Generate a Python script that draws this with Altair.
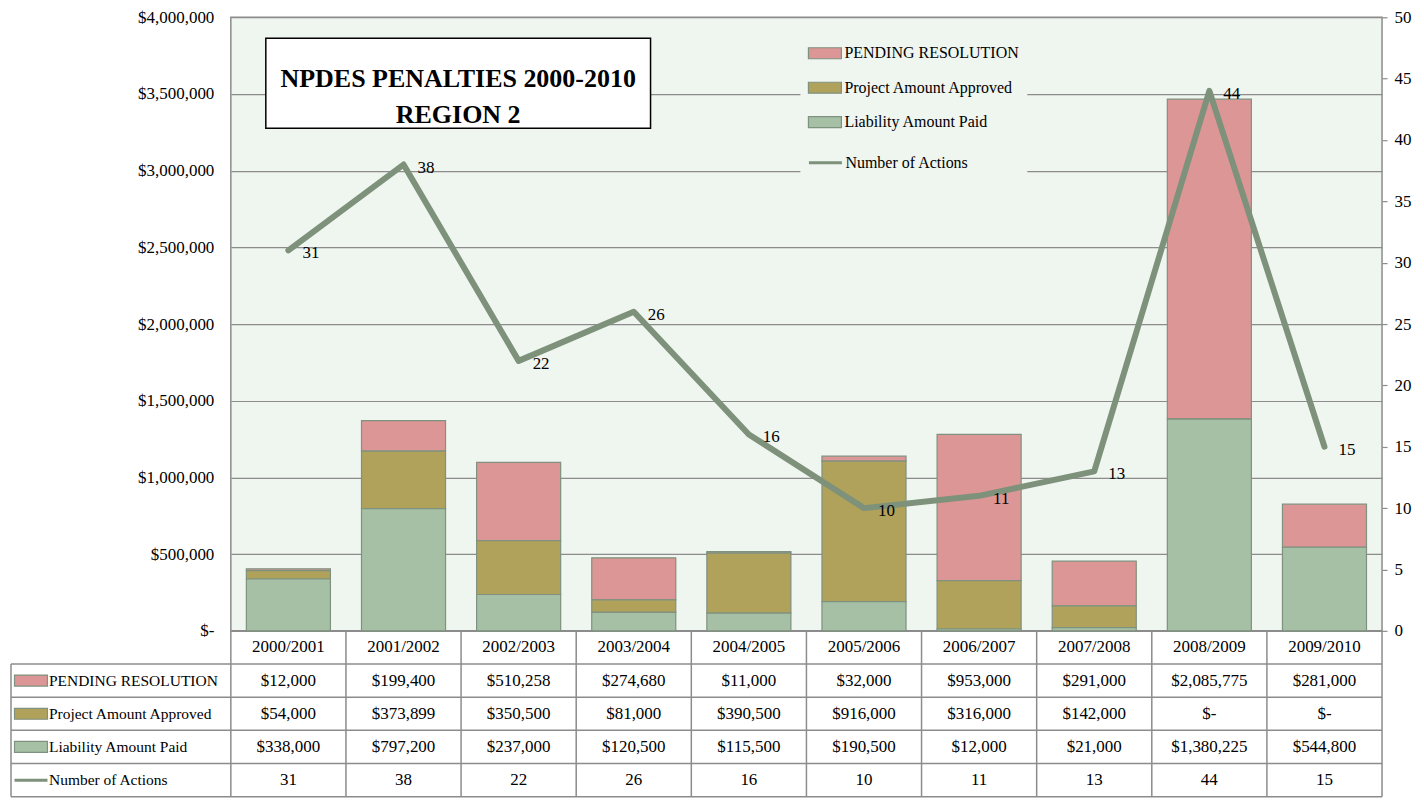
import altair as alt
import pandas as pd

# ---------------- data ----------------
periods = ["2000/2001", "2001/2002", "2002/2003", "2003/2004", "2004/2005",
           "2005/2006", "2006/2007", "2007/2008", "2008/2009", "2009/2010"]
pending = [12000, 199400, 510258, 274680, 11000, 32000, 953000, 291000, 2085775, 281000]
project = [54000, 373899, 350500, 81000, 390500, 916000, 316000, 142000, 0, 0]
liability = [338000, 797200, 237000, 120500, 115500, 190500, 12000, 21000, 1380225, 544800]
actions = [31, 38, 22, 26, 16, 10, 11, 13, 44, 15]

series_names = ["PENDING RESOLUTION", "Project Amount Approved", "Liability Amount Paid"]
line_name = "Number of Actions"
series_colors = ["#DD9696", "#B0A25A", "#A6C0A6"]
line_color = "#7E917B"
title_lines = ["NPDES PENALTIES 2000-2010", "REGION 2"]
money_ticks = [0, 500000, 1000000, 1500000, 2000000, 2500000, 3000000, 3500000, 4000000]
count_ticks = [0, 5, 10, 15, 20, 25, 30, 35, 40, 45, 50]

# ---------------- layout ----------------
W, H = 1152, 614
T = 166
LABEL_COL = 220
FONT = "Liberation Serif"
NUM_SIZE = 17
TXT_SIZE = 15.5
GRID = "#8C8C8C"
BORDER = "#7F917F"
BG = "#EFF5EF"
RECT_PATH = "M-1.5,-0.5H1.5V0.5H-1.5Z"
LINE_PATH = "M-1.5,0H1.5"


def money(v):
    return "$-" if v == 0 else "${:,}".format(v)


series_values = [pending, project, liability]
stack_rank = {series_names[0]: 2, series_names[1]: 1, series_names[2]: 0}

bar_rows = []
for name, vals in zip(series_names, series_values):
    for p, v in zip(periods, vals):
        bar_rows.append({"period": p, "series": name, "value": v, "rank": stack_rank[name]})
bar_df = pd.DataFrame(bar_rows)

line_df = pd.DataFrame({"period": periods, "actions": actions, "series": line_name})

row_keys = ["_header"] + series_names + [line_name]
cell_rows = []
for i, p in enumerate(periods):
    cell_rows.append({"period": p, "row": "_header", "label": p})
    cell_rows.append({"period": p, "row": series_names[0], "label": money(pending[i])})
    cell_rows.append({"period": p, "row": series_names[1], "label": money(project[i])})
    cell_rows.append({"period": p, "row": series_names[2], "label": money(liability[i])})
    cell_rows.append({"period": p, "row": line_name, "label": str(actions[i])})
cell_df = pd.DataFrame(cell_rows)

rowlab_df = pd.DataFrame({"row": series_names + [line_name]})
swatch_df = pd.DataFrame({"row": series_names, "color": series_colors})
line_sw_df = pd.DataFrame({"row": [line_name]})
one = pd.DataFrame({"k": [0]})

xscale = alt.Scale(type="band", domain=periods, paddingInner=0, paddingOuter=0)
tscale = alt.Scale(type="band", domain=row_keys, range=[H, H + T], paddingInner=0, paddingOuter=0)


def X(**kw):
    return alt.X("period:N", scale=xscale, axis=None, **kw)


def TY(**kw):
    return alt.Y("row:N", scale=tscale, axis=None, **kw)


# ---------------- plot layers ----------------
legend_bg = alt.Chart(one).mark_rect(fill=BG, stroke=None).encode(
    x=alt.value(570), x2=alt.value(797), y=alt.value(16), y2=alt.value(161)
)

title_box = alt.Chart(one).mark_rect(fill="white", stroke="black", strokeWidth=1.5).encode(
    x=alt.value(35), x2=alt.value(420), y=alt.value(21), y2=alt.value(111)
)
title_text = alt.Chart(one).mark_text(
    font=FONT, fontSize=26, fontWeight="bold", color="black",
    align="center", baseline="middle", lineBreak="\n", lineHeight=36
).encode(x=alt.value(227.5), y=alt.value(62), text=alt.value("\n".join(title_lines)))

bars = alt.Chart(bar_df).mark_bar(
    width=alt.RelativeBandSize(0.73), stroke=BORDER, strokeWidth=1.2
).encode(
    x=X(),
    y=alt.Y("value:Q", stack="zero",
            scale=alt.Scale(domain=[0, 4000000], nice=False, zero=True),
            axis=alt.Axis(orient="left", values=money_ticks, title=None, grid=True,
                          ticks=False, domain=False, labelPadding=17,
                          labelExpr="datum.value == 0 ? '$-' : '$' + format(datum.value, ',')")),
    fill=alt.Fill("series:N", scale=alt.Scale(domain=series_names, range=series_colors),
                  legend=alt.Legend(orient="none", legendX=582.5, legendY=24, title=None,
                                    symbolType=RECT_PATH, symbolSize=484,
                                    symbolStrokeColor=BORDER, symbolStrokeWidth=1.2,
                                    labelFont=FONT, labelFontSize=16, labelColor="black",
                                    labelLimit=400, labelOffset=7.5, rowPadding=14.5, padding=0)),
    order=alt.Order("rank:Q", sort="ascending"),
)

line = alt.Chart(line_df).mark_line(strokeWidth=6, strokeCap="round", strokeJoin="round").encode(
    x=X(),
    y=alt.Y("actions:Q", scale=alt.Scale(domain=[0, 50], nice=False),
            axis=alt.Axis(orient="right", values=count_ticks, title=None, grid=False,
                          ticks=True, tickSize=5, tickColor=GRID, tickWidth=1.2,
                          domain=False, labelPadding=7)),
    stroke=alt.Stroke("series:N", scale=alt.Scale(domain=[line_name], range=[line_color]),
                      legend=alt.Legend(orient="none", legendX=582.5, legendY=133, title=None,
                                        symbolType=LINE_PATH, symbolSize=484, symbolStrokeWidth=3,
                                        labelFont=FONT, labelFontSize=16, labelColor="black",
                                        labelLimit=400, labelOffset=7.5, padding=0)),
)
line_labels = alt.Chart(line_df).mark_text(
    font=FONT, fontSize=NUM_SIZE, color="black", align="left", baseline="middle", dx=14, dy=3
).encode(x=X(), y=alt.Y("actions:Q"), text=alt.Text("actions:Q"))
line_layer = alt.layer(line, line_labels)

# ---------------- data table ----------------
cells = alt.Chart(cell_df).mark_text(font=FONT, fontSize=NUM_SIZE, color="black", baseline="middle").encode(
    x=X(), y=TY(), text="label:N"
)
row_labels = alt.Chart(rowlab_df).mark_text(
    font=FONT, fontSize=TXT_SIZE, color="black", align="left", baseline="middle"
).encode(x=alt.value(-182), y=TY(), text="row:N")
swatches = alt.Chart(swatch_df).mark_point(
    shape=RECT_PATH, size=484, filled=True, opacity=1, stroke=BORDER, strokeWidth=1.2
).encode(x=alt.value(-200), y=TY(), fill=alt.Fill("color:N", scale=None))
line_swatch = alt.Chart(line_sw_df).mark_point(
    shape=LINE_PATH, size=484, filled=False, opacity=1, strokeWidth=3, color=line_color
).encode(x=alt.value(-200), y=TY())

h_rules = alt.Chart(rowlab_df).mark_rule(color=GRID, strokeWidth=1.5).encode(
    y=TY(bandPosition=0), x=alt.value(-LABEL_COL), x2=alt.value(W)
)
bottom_rule = alt.Chart(one).mark_rule(color=GRID, strokeWidth=1.5).encode(
    y=alt.value(H + T), x=alt.value(-LABEL_COL), x2=alt.value(W)
)
v_rules = alt.Chart(line_df).mark_rule(color=GRID, strokeWidth=1.5).encode(
    x=X(bandPosition=0), y=alt.value(H), y2=alt.value(H + T)
)
right_rule = alt.Chart(one).mark_rule(color=GRID, strokeWidth=1.5).encode(
    x=alt.value(W), y=alt.value(H), y2=alt.value(H + T)
)
left_rule = alt.Chart(one).mark_rule(color=GRID, strokeWidth=1.5).encode(
    x=alt.value(-LABEL_COL), y=alt.value(H + T / 5), y2=alt.value(H + T)
)

chart = alt.layer(
    legend_bg, title_box, title_text, bars, line_layer,
    h_rules, bottom_rule, v_rules, right_rule, left_rule,
    cells, row_labels, swatches, line_swatch,
).resolve_scale(y="independent").properties(
    width=W, height=H,
    padding={"left": 0, "top": 0, "right": 5, "bottom": 0},
).configure_view(
    fill=BG, stroke=GRID, strokeWidth=1.5
).configure_axis(
    labelFont=FONT, labelFontSize=NUM_SIZE, labelColor="black", gridColor=GRID, gridWidth=1.2
)

chart.save("out.html", embed_options={"renderer": "svg", "actions": False})
